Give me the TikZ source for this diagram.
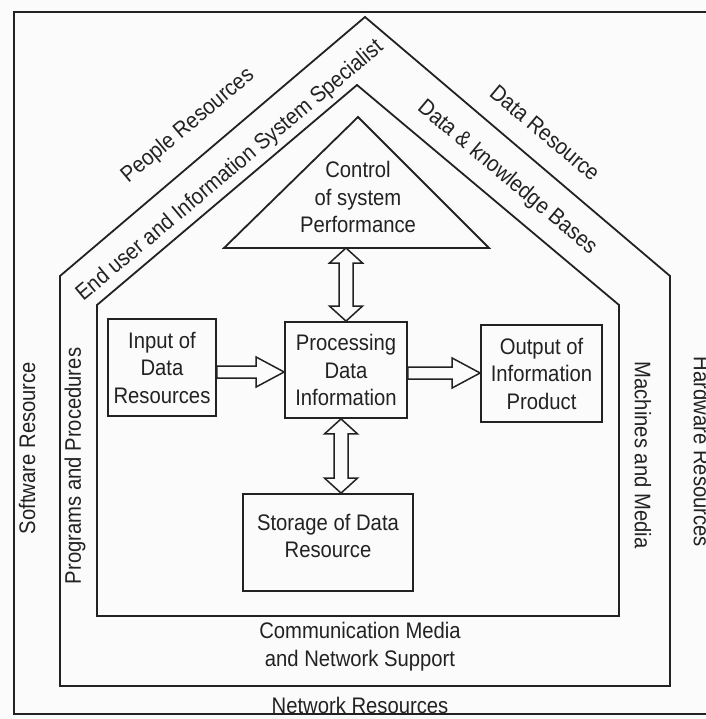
\documentclass[tikz,border=0pt]{standalone}
\usepackage{fontspec}
\setmainfont{Liberation Sans}[FakeStretch=0.9]
\usetikzlibrary{calc}
\definecolor{ink}{HTML}{222222}
\definecolor{paper}{HTML}{FBFBFB}

% hollow block arrow pointing right, from #1 to #2 (drawn at the height of #1)
\newcommand\blockright[2]{%
  \draw[hollow] let \p1=(#1), \p2=(#2) in
    (\x1,\y1+6pt) -- (\x2-28pt,\y1+6pt) -- (\x2-28pt,\y1+15pt) -- (\x2,\y1)
    -- (\x2-28pt,\y1-15pt) -- (\x2-28pt,\y1-6pt) -- (\x1,\y1-6pt) -- cycle;}

% hollow double-headed vertical arrow, from #1 (top) to #2 (bottom), at the x of #1
\newcommand\blockupdown[2]{%
  \draw[hollow] let \p1=(#1), \p2=(#2) in
    (\x1,\y1) -- (\x1+16.5pt,\y1-15pt) -- (\x1+7pt,\y1-15pt) -- (\x1+7pt,\y2+15pt)
    -- (\x1+16.5pt,\y2+15pt) -- (\x1,\y2) -- (\x1-16.5pt,\y2+15pt) -- (\x1-7pt,\y2+15pt)
    -- (\x1-7pt,\y1-15pt) -- (\x1-16.5pt,\y1-15pt) -- cycle;}

\begin{document}
\begin{tikzpicture}[x=1pt,y=-1pt,
  every node/.style={text=ink, font=\fontsize{22.5}{27.5}\selectfont, inner sep=0pt},
  outline/.style={draw=ink, line width=1.8pt, line join=miter},
  box/.style={draw=ink, line width=1.8pt, align=center},
  lbl/.style={align=center},
  hollow/.style={draw=ink, line width=1.5pt, fill=paper, line join=miter}]

\useasboundingbox[fill=paper] (0,0) rectangle (705,719);

% page frame (its right side runs off the page)
\draw[outline] (730,12) -- (14,12) -- (14,714) -- (730,714);

% outer house
\draw[outline] (365,17) -- (670,276) -- (670,686) -- (60,686) -- (60,276) -- cycle;
% inner house
\draw[outline] (357,85) -- (619,305) -- (619,616) -- (97,616) -- (97,305) -- cycle;

% control triangle
\draw[outline] (358,117) -- (489,248) -- (224,248) -- cycle;
\node[lbl] (ctrl) at (358,197) {Control\\of system\\Performance};
\coordinate (ctrlbase) at (346,248);

% activity boxes
\node[box, minimum width=108pt, minimum height=97pt] (inp) at (162,367.5)
  {Input of\\Data\\Resources};
\node[box, minimum width=122pt, minimum height=96pt] (proc) at (346,370)
  {Processing\\Data\\Information};
\node[box, minimum width=121pt, minimum height=97pt] (outp) at (541.5,373.5)
  {Output of\\Information\\Product};
\node[box, minimum width=170pt, minimum height=97pt] (store) at (328,542.5) {};
\node[lbl] (storetxt) at (328,536) {Storage of Data\\Resource};

% flows between the activities
\coordinate (row1) at (0,372);
\coordinate (row2) at (0,373);
\coordinate (col2) at (341,0);
\blockright{inp.east |- row1}{proc.west |- row1}
\blockright{proc.east |- row2}{outp.west |- row2}
\blockupdown{ctrlbase}{proc.north}
\blockupdown{proc.south -| col2}{store.north -| col2}

% resource labels
\node[rotate=40] (people) at (188,126) {People Resources};
\node[rotate=40] (enduser) at (230,171) {End user and Information System Specialist};
\node[rotate=-40] (datares) at (545,133) {Data Resource};
\node[rotate=-40] (kbases) at (507,178) {Data \& knowledge Bases};
\node[rotate=90] (soft) at (27,448) {Software Resource};
\node[rotate=90] (prog) at (75,466) {Programs and Procedures};
\node[rotate=-90] (mach) at (643,455) {Machines and Media};
\node[rotate=-90] (hard) at (702,452) {Hardware Resources};
\node[lbl] (comm) at (360,646.5) {Communication Media\\and Network Support};
\node (net) at (360,705) {Network Resources};
\end{tikzpicture}
\end{document}
